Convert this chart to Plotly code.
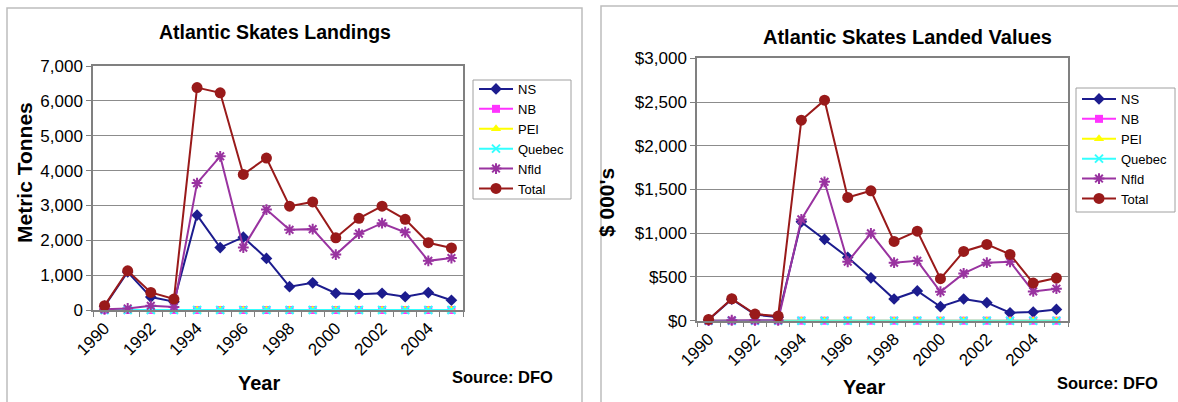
import plotly.graph_objects as go

# ---------------- data ----------------
years = list(range(1990, 2006))
year_ticks = [1990, 1992, 1994, 1996, 1998, 2000, 2002, 2004]
series_names = ["NS", "NB", "PEI", "Quebec", "Nfld", "Total"]

# Landings (metric tonnes)
ns_t = [110, 1090, 370, 240, 2720, 1790, 2090, 1480, 670, 780, 480, 450, 480, 380, 500, 280]
nb_t = [0] * 16
pei_t = [0] * 16
que_t = [0] * 16
nfld_t = [20, 45, 120, 85, 3640, 4410, 1790, 2880, 2300, 2320, 1590, 2190, 2490, 2230, 1410, 1490]
total_t = [125, 1125, 505, 315, 6380, 6230, 3890, 4360, 2980, 3100, 2070, 2630, 2980, 2600, 1930, 1780]

# Landed values ($ 000's)
ns_v = [10, 245, 70, 40, 1130, 930, 725, 490, 248, 340, 160, 248, 206, 91, 99, 129]
nb_v = [0] * 16
pei_v = [0] * 16
que_v = [0] * 16
nfld_v = [0, 5, 5, 5, 1158, 1588, 674, 998, 663, 685, 331, 541, 663, 674, 335, 366]
total_v = [15, 251, 76, 53, 2292, 2521, 1409, 1485, 906, 1024, 480, 792, 872, 758, 430, 487]

# ---------------- styles ----------------
FONT = "Liberation Sans, Arial, sans-serif"
W, H = 1178, 402
colors = ["#1c1c8e", "#ff33ff", "#ffff00", "#33ffff", "#9933a0", "#991a1a"]
symbols = ["diamond", "square", "triangle-up", "x-thin-open", "asterisk-open", "circle"]
sizes = [9, 8, 9, 8, 9, 11]


def px_x(x):
    return x / W


def px_y(y):
    return (H - y) / H


fig = go.Figure()

datasets = [
    ([ns_t, nb_t, pei_t, que_t, nfld_t, total_t], "x", "y", "legend"),
    ([ns_v, nb_v, pei_v, que_v, nfld_v, total_v], "x2", "y2", "legend2"),
]
for vals, xa, ya, lg in datasets:
    for i, name in enumerate(series_names):
        open_sym = symbols[i].endswith("open")
        fig.add_trace(go.Scatter(
            x=years, y=vals[i], name=name, mode="lines+markers",
            xaxis=xa, yaxis=ya, legend=lg, legendgroup=lg + name,
            line=dict(color=colors[i], width=2),
            marker=dict(symbol=symbols[i], size=sizes[i], color=colors[i],
                        line=dict(color=colors[i], width=2 if open_sym else 0)),
            cliponaxis=False,
        ))

minor_ticks = dict(tickmode="array", tickvals=[1989.5 + k for k in range(17)],
                   ticks="outside", ticklen=5, tickcolor="#808080", showgrid=False)

xcommon = dict(range=[1989.5, 2005.5], tickmode="array", tickvals=year_ticks,
               tickangle=-45, ticks="", showgrid=False, showline=True, mirror=True,
               linecolor="#808080", linewidth=1.5, zeroline=False, automargin=False,
               tickfont=dict(family=FONT, size=17, color="#000"), minor=minor_ticks)
ycommon = dict(showgrid=True, gridcolor="#8c8c8c", gridwidth=1, showline=True, mirror=True,
               linecolor="#808080", linewidth=1.5, zeroline=False, ticks="outside",
               ticklen=5, tickcolor="#808080", automargin=False,
               tickfont=dict(family=FONT, size=17, color="#000"))

legcommon = dict(borderwidth=0, bgcolor="rgba(0,0,0,0)",
                 font=dict(family=FONT, size=13, color="#000"),
                 yanchor="top", itemwidth=34, tracegroupgap=0,
                 itemclick=False)

fig.update_layout(
    width=W, height=H, margin=dict(l=0, r=0, t=0, b=0, autoexpand=False),
    paper_bgcolor="white", plot_bgcolor="white",
    xaxis=dict(domain=[px_x(93), px_x(463)], anchor="y", **xcommon),
    yaxis=dict(domain=[px_y(310), px_y(66)], anchor="x", range=[0, 7000], dtick=1000,
               tickformat=",", **ycommon),
    xaxis2=dict(domain=[px_x(697), px_x(1068)], anchor="y2", **xcommon),
    yaxis2=dict(domain=[px_y(320.7), px_y(58.3)], anchor="x2", range=[0, 3000], dtick=500,
                tickformat=",", tickprefix="$", **ycommon),
    legend=dict(x=px_x(474), y=px_y(74), xanchor="left", **legcommon),
    legend2=dict(x=px_x(1077), y=px_y(84), xanchor="left", **legcommon),
    showlegend=True,
)

# outer chart frames
fig.add_shape(type="rect", xref="paper", yref="paper", x0=px_x(7), x1=px_x(582),
              y0=-0.1, y1=px_y(8), line=dict(color="#bdbdbd", width=1.5), layer="below")
fig.add_shape(type="rect", xref="paper", yref="paper", x0=px_x(601), x1=px_x(1190),
              y0=-0.1, y1=px_y(6), line=dict(color="#bdbdbd", width=1.5), layer="below")
# legend boxes
fig.add_shape(type="rect", xref="paper", yref="paper", x0=px_x(473), x1=px_x(571),
              y0=px_y(199), y1=px_y(80), line=dict(color="#a0a0a0", width=1), layer="below")
fig.add_shape(type="rect", xref="paper", yref="paper", x0=px_x(1076), x1=px_x(1175),
              y0=px_y(212), y1=px_y(88), line=dict(color="#a0a0a0", width=1), layer="below")


def note(text, x, y, size, angle=0):
    fig.add_annotation(text=text, x=px_x(x), y=px_y(y), xref="paper", yref="paper",
                       showarrow=False, textangle=angle, xanchor="center", yanchor="middle",
                       font=dict(family=FONT, size=size, color="#000"))


note("<b>Atlantic Skates Landings</b>", 275, 32, 19.5)
note("<b>Atlantic Skates Landed Values</b>", 907, 37, 20)
note("<b>Metric Tonnes</b>", 24, 173, 21, -90)
note("<b>$ 000's</b>", 606, 203, 21, -90)
note("<b>Year</b>", 259, 383, 20)
note("<b>Year</b>", 864, 387, 20)
note("<b>Source: DFO</b>", 502, 377, 16.5)
note("<b>Source: DFO</b>", 1107, 383, 16.5)

fig.write_html(
    "out.html",
    config={"displayModeBar": False},
    post_script="document.body.style.margin='0';document.body.style.overflow='hidden';",
)
